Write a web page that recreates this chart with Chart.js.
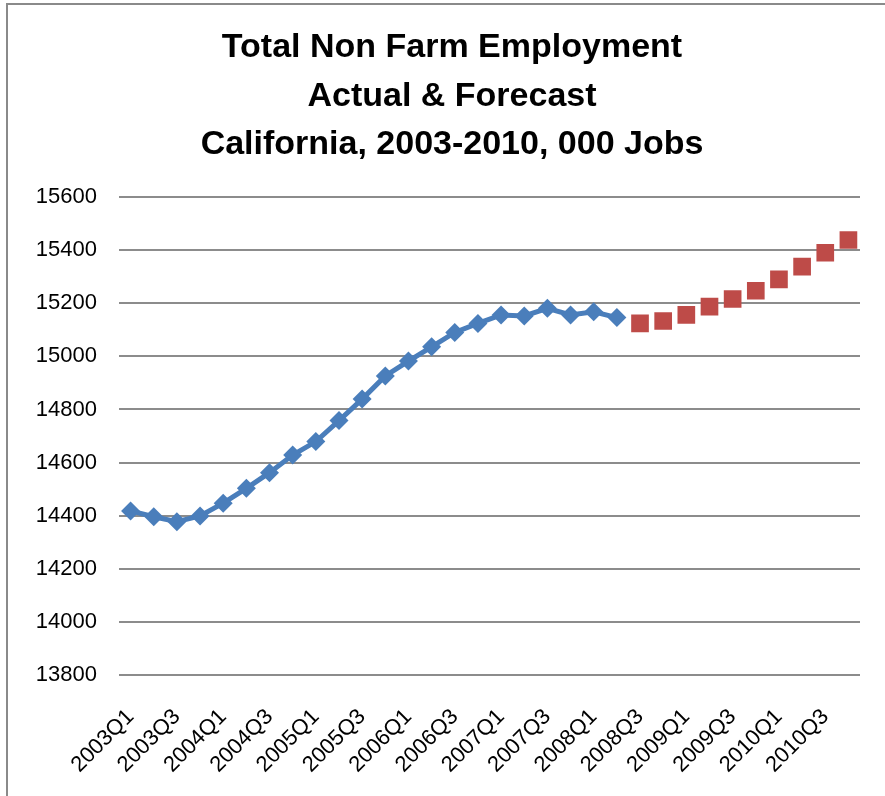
<!DOCTYPE html>
<html>
<head>
<meta charset="utf-8">
<script src="https://cdn.jsdelivr.net/npm/chart.js@4"></script>
<style>
    body { margin: 0; background: #fff; }
    #frame {
        position: absolute; left: 6px; top: 3px; width: 960px; height: 860px;
        border: 2px solid #8a8a8a;
    }
    #wrap { position: absolute; left: 0; top: 0; width: 885px; height: 796px; }
</style>
</head>
<body>
<div id="frame"></div>
<div id="wrap"><canvas id="empChart" width="885" height="796"></canvas></div>
<script>
// Quarterly categories, 2003Q1 - 2010Q4
const quarters = [
    '2003Q1', '2003Q2', '2003Q3', '2003Q4',
    '2004Q1', '2004Q2', '2004Q3', '2004Q4',
    '2005Q1', '2005Q2', '2005Q3', '2005Q4',
    '2006Q1', '2006Q2', '2006Q3', '2006Q4',
    '2007Q1', '2007Q2', '2007Q3', '2007Q4',
    '2008Q1', '2008Q2', '2008Q3', '2008Q4',
    '2009Q1', '2009Q2', '2009Q3', '2009Q4',
    '2010Q1', '2010Q2', '2010Q3', '2010Q4'
];

// Actual, 2003Q1 - 2008Q2 (000 jobs)
const actualJobs = [
    14418, 14396, 14377, 14399, 14447, 14503, 14562, 14628,
    14679, 14758, 14839, 14926, 14982, 15036, 15090, 15124,
    15156, 15152, 15181, 15156, 15168, 15146
];

// Forecast, 2008Q3 - 2010Q4 (000 jobs)
const forecastJobs = [15124, 15133, 15156, 15187, 15216, 15247, 15290, 15338, 15390, 15438];

const yMin = 13800;
const yMax = 15600;
const yStep = 200;

const titleLines = ['Total Non Farm Employment', 'Actual & Forecast', 'California, 2003-2010, 000 Jobs'];

// pad the two series out to the full category list
const actualSeries = quarters.map((q, i) => i < actualJobs.length ? actualJobs[i] : null);
const forecastSeries = quarters.map((q, i) => {
    const j = i - actualJobs.length;
    return j >= 0 ? forecastJobs[j] : null;
});

const fontFamily = "'Liberation Sans', Arial, sans-serif";

// the built-in title only centres on the whole canvas, the original sits a bit to the right
const centredTitle = {
    id: 'centredTitle',
    afterDraw(chart) {
        const c = chart.ctx;
        c.save();
        c.fillStyle = '#000';
        c.font = 'bold 34px ' + fontFamily;
        c.textAlign = 'center';
        c.textBaseline = 'middle';
        titleLines.forEach((line, i) => {
            c.fillText(line, 452, 48 + i * 48.5);
        });
        c.restore();
    }
};

const ctx = document.getElementById('empChart').getContext('2d');
const chart = new Chart(ctx, {
    type: 'line',
    data: {
        labels: quarters,
        datasets: [{
            label: 'Actual',
            data: actualSeries,
            borderColor: '#4A7EBB',
            backgroundColor: '#4A7EBB',
            borderWidth: 5,
            pointStyle: 'rectRot',
            pointRadius: 9.5,
            pointBorderWidth: 0,
            tension: 0,
            spanGaps: false
        }, {
            label: 'Forecast',
            data: forecastSeries,
            showLine: false,
            borderColor: '#C0504D',
            backgroundColor: '#BE4B48',
            pointStyle: 'rect',
            pointRadius: 12.5,
            pointBorderWidth: 0
        }]
    },
    options: {
        responsive: false,
        animation: false,
        layout: {
            padding: { left: 0, right: 25, top: 197, bottom: 0 }
        },
        plugins: {
            legend: { display: false },
            tooltip: { enabled: false },
            title: { display: false }
        },
        scales: {
            x: {
                offset: true,
                grid: { display: false },
                border: { display: false },
                ticks: {
                    autoSkip: false,
                    minRotation: 45,
                    maxRotation: 45,
                    padding: 21,
                    color: '#000',
                    font: { family: fontFamily, size: 22 },
                    callback: function(val, index) {
                        return index % 2 === 0 ? quarters[index] : null;
                    }
                },
                afterFit: function(scale) {
                    scale.height = 121;
                }
            },
            y: {
                min: yMin,
                max: yMax,
                grid: { color: '#8c8c8c', lineWidth: 2, drawTicks: false },
                border: { display: false },
                ticks: {
                    stepSize: yStep,
                    padding: 22,
                    color: '#000',
                    font: { family: fontFamily, size: 22 },
                    callback: function(value) {
                        return String(value);
                    }
                },
                afterFit: function(scale) {
                    scale.width = 119;
                }
            }
        }
    },
    plugins: [centredTitle]
});
</script>
</body>
</html>
